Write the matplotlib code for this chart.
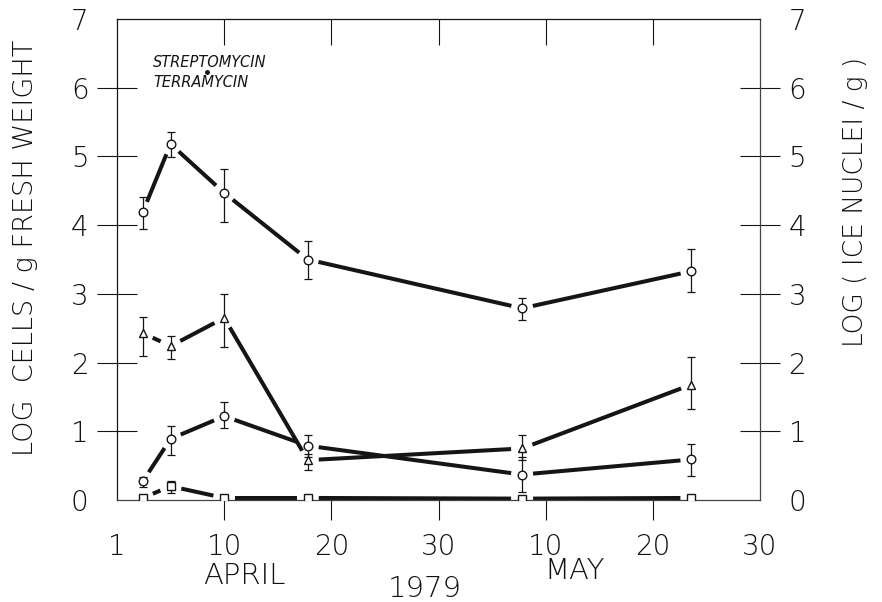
import numpy as np
import matplotlib
matplotlib.use('Agg')
import matplotlib.pyplot as plt

# sampling days (day 1 = 1 April 1979, day 31 = 1 May)
days = [2.4, 5.0, 10.0, 17.8, 37.8, 53.6]

# upper circles
top_val = [4.19, 5.18, 4.47, 3.50, 2.79, 3.33]
top_hi  = [4.41, 5.35, 4.82, 3.77, 2.94, 3.65]
top_lo  = [3.95, 4.99, 4.05, 3.22, 2.62, 3.02]

# triangles
tri_val = [2.43, 2.24, 2.65, 0.58, 0.75, 1.68]
tri_hi  = [2.67, 2.38, 3.00, 0.67, 0.95, 2.08]
tri_lo  = [2.10, 2.05, 2.22, 0.44, 0.58, 1.32]

# lower circles
low_val = [0.27, 0.89, 1.22, 0.79, 0.37, 0.59]
low_hi  = [0.34, 1.08, 1.42, 0.95, 0.62, 0.82]
low_lo  = [0.19, 0.65, 1.05, 0.62, 0.12, 0.35]

# squares (error bar only on the second sample)
sq_val = [0.03, 0.20, 0.03, 0.03, 0.02, 0.03]
sq_hi  = [np.nan, 0.28, np.nan, np.nan, np.nan, np.nan]
sq_lo  = [np.nan, 0.10, np.nan, np.nan, np.nan, np.nan]

x_ticks = [0, 10, 20, 30, 40, 50, 60]
x_labels = ['1', '10', '20', '30', '10', '20', '30']
y_ticks = [0, 1, 2, 3, 4, 5, 6, 7]

ink = '#151515'
txt = '#111111'
plt.rcParams['font.family'] = 'DejaVu Sans'
plt.rcParams['font.weight'] = 'light'

fig = plt.figure(figsize=(8.82, 6.02), dpi=100)
ax = fig.add_axes([117/882, 1 - 500/602, 643/882, 481/602])
ax.set_xlim(0, 60)
ax.set_ylim(0, 7)

for s in ax.spines.values():
    s.set_linewidth(0.9)
    s.set_color(ink)
ax.spines['right'].set_color('#444444')
ax.spines['bottom'].set_color('#444444')

# y ticks on both sides, crossing the spines
ax.set_yticks(y_ticks)
ax.set_yticklabels([str(v) for v in y_ticks])
ax.tick_params(axis='y', direction='inout', length=29, width=0.8, color=ink,
               labelsize=20, labelcolor=txt, pad=6,
               left=True, right=True, labelleft=True, labelright=True)
for i in (0, -1):
    t = ax.yaxis.get_major_ticks()[i]
    t.tick1line.set_visible(False)
    t.tick2line.set_visible(False)

# bottom ticks outward, labels as day of month
ax.set_xticks(x_ticks)
ax.set_xticklabels(x_labels)
ax.tick_params(axis='x', direction='out', length=14.5, width=0.8, color=ink,
               labelsize=20, labelcolor=txt, pad=9, top=False)
for i in (0, -1):
    ax.xaxis.get_major_ticks()[i].tick1line.set_visible(False)

# top ticks pointing inward
topax = ax.secondary_xaxis('top')
topax.set_xticks([10, 20, 30, 40, 50])
topax.set_xticklabels([])
topax.tick_params(direction='in', length=19, width=0.8, color=ink)
topax.spines['top'].set_visible(False)

# thick connecting lines, stopped short of each marker
gap = 11
def gapped_line(xs, ys):
    pts = ax.transData.transform(np.column_stack([xs, ys]))
    inv = ax.transData.inverted()
    for p0, p1 in zip(pts[:-1], pts[1:]):
        d = p1 - p0
        u = d / np.hypot(*d)
        seg = inv.transform([p0 + u * gap, p1 - u * gap])
        ax.plot(seg[:, 0], seg[:, 1], color=ink, lw=2.9,
                solid_capstyle='butt', zorder=2)

def series(vals, hi, lo, marker, ms):
    gapped_line(days, vals)
    v = np.array(vals, dtype=float)
    h = np.array(hi, dtype=float)
    l = np.array(lo, dtype=float)
    ok = ~np.isnan(h)
    x = np.array(days)[ok]
    ax.errorbar(x, v[ok], yerr=[v[ok] - l[ok], h[ok] - v[ok]], fmt='none',
                ecolor=ink, elinewidth=0.9, capsize=3.1, capthick=0.9, zorder=3)
    ax.plot(days, vals, linestyle='none', marker=marker, ms=ms,
            mfc='white', mec=ink, mew=1.0, zorder=4)

series(top_val, top_hi, top_lo, 'o', 6.2)
series(tri_val, tri_hi, tri_lo, '^', 6.4)
series(low_val, low_hi, low_lo, 'o', 6.2)
series(sq_val, sq_hi, sq_lo, 's', 5.8)

# legend text
ax.text(0.056, 0.909, 'STREPTOMYCIN', transform=ax.transAxes, fontsize=10.5,
        style='italic', color=ink, va='center', ha='left')
ax.text(0.056, 0.867, 'TERRAMYCIN', transform=ax.transAxes, fontsize=10.5,
        style='italic', color=ink, va='center', ha='left')
ax.plot([0.14], [0.889], transform=ax.transAxes, marker='o', ms=2.5,
        color=ink, linestyle='none')

# axis titles and month labels
fig.text(26/882, 1 - 248/602, 'LOG  CELLS / g FRESH WEIGHT', rotation=90,
         ha='center', va='center', fontsize=19.5, color=txt)
fig.text(855/882, 1 - 202/602, 'LOG ( ICE NUCLEI / g )', rotation=90,
         ha='center', va='center', fontsize=19, color=txt)
fig.text(244/882, 1 - 576/602, 'APRIL', ha='center', va='center',
         fontsize=21, color=txt)
fig.text(575/882, 1 - 571/602, 'MAY', ha='center', va='center',
         fontsize=21, color=txt)
fig.text(425/882, 1 - 589/602, '1979', ha='center', va='center',
         fontsize=21, color=txt)

fig.savefig('out.png', dpi=100)
